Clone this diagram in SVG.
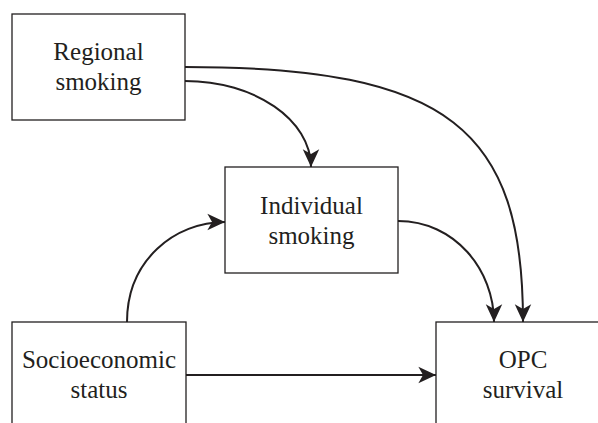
<svg xmlns="http://www.w3.org/2000/svg" width="598" height="423" viewBox="0 0 598 423">
<style>
.box{fill:#fff;stroke:#231f20;stroke-width:1.3}
.lbl{font-size:25px;fill:#231f20;text-anchor:middle}
.edge{fill:none;stroke:#231f20;stroke-width:2}
</style>
<defs>
<marker id="ah" markerUnits="userSpaceOnUse" markerWidth="20" markerHeight="20" viewBox="-16 -8 17 16" refX="0" refY="0" orient="auto">
<path d="M0,0 L-15,-7 L-11,0 L-15,7 Z" fill="#231f20"/>
</marker>
</defs>
<rect width="598" height="423" fill="#fff"/>
<g id="connectors">
<path class="edge" d="M185,67 C450,67 523,130 523,322" marker-end="url(#ah)"/>
<path class="edge" d="M185,81 C255,81 311,120 311,167" marker-end="url(#ah)"/>
<path class="edge" d="M398,221 C455,221 494,270 494,322" marker-end="url(#ah)"/>
<path class="edge" d="M127,322 C127,260 175,222 225,222" marker-end="url(#ah)"/>
<path class="edge" d="M186,375 L436,375" marker-end="url(#ah)"/>
</g>
<g font-family="Liberation Serif, DejaVu Serif, serif">
<g id="regional">
<rect class="box" x="12" y="14" width="173" height="106"/>
<text class="lbl" x="98.5" y="60">Regional</text>
<text class="lbl" x="98.5" y="90">smoking</text>
</g>
<g id="individual">
<rect class="box" x="225" y="167" width="173" height="106"/>
<text class="lbl" x="311.5" y="214">Individual</text>
<text class="lbl" x="311.5" y="244">smoking</text>
</g>
<g id="ses">
<rect class="box" x="12" y="322" width="174" height="110"/>
<text class="lbl" x="99" y="368">Socioeconomic</text>
<text class="lbl" x="99" y="398">status</text>
</g>
<g id="opc">
<rect class="box" x="436" y="322" width="174" height="110"/>
<text class="lbl" x="523" y="368">OPC</text>
<text class="lbl" x="523" y="398">survival</text>
</g>
</g>
</svg>
